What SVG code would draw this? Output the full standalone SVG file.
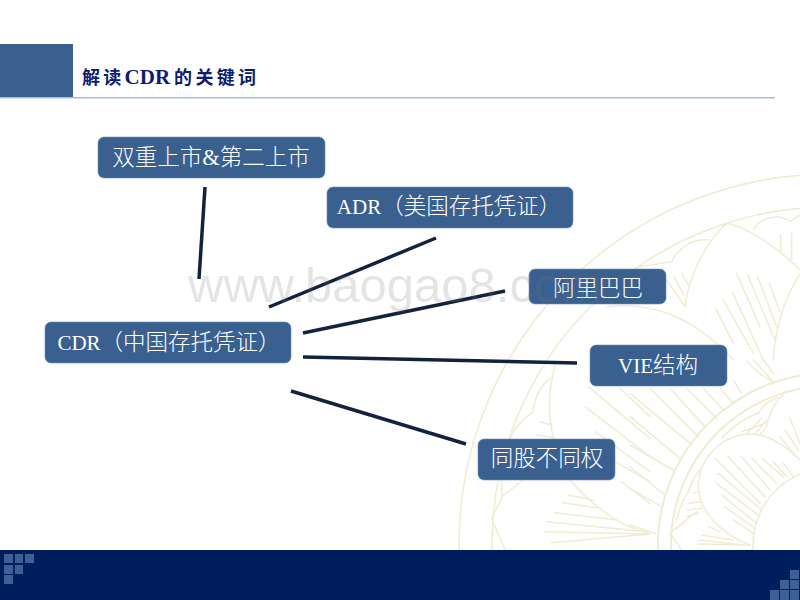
<svg xmlns="http://www.w3.org/2000/svg" width="800" height="600" viewBox="0 0 800 600">
<style>
.box{fill:#3a6090;stroke:#6f8fb5;stroke-width:.6}
.t{fill:#fff;font-family:"Liberation Serif","Noto Sans CJK SC",serif;font-size:22.5px;font-weight:300;text-anchor:middle}
.l{font-size:21px}
.c{stroke:#12233f;stroke-width:3.5;fill:none}
.o{fill:none;stroke:#f0ecd3;stroke-width:1.6}
.p{fill:none;stroke:#f0ecd3;stroke-width:4.6;stroke-linecap:round}
.sq{fill:#3d6196}
</style>
<rect width="800" height="600" fill="#fff"/>
<g id="ornament">
<g class="o">
<circle cx="830" cy="545" r="371"/>
<circle cx="830" cy="545" r="338"/>
<circle cx="830" cy="545" r="172" stroke-width="2"/>
<circle cx="830" cy="545" r="159" stroke-width="2"/>
<circle cx="830" cy="545" r="77"/>
</g>
<g class="p" transform="translate(620 170) scale(.3333)">
<path d="M195 410C205 320 260 210 320 160C380 170 470 230 540 300"/>
<path d="M540 310C490 390 465 480 460 570"/>
<path d="M-40 410C100 395 220 440 340 570"/>
<path d="M60 290L155 275C175 235 215 205 265 210"/>
<path d="M400 180C420 140 480 130 510 155L540 135"/>
<path d="M350 310L420 470M383 315L465 510M413 320L470 470M448 340L480 425M310 390L400 550M338 368L430 570M287 415L340 520"/>
<path d="M140 330L195 410M163 322L192 375M185 310L205 345"/>
<path d="M482 195V245M515 190V270"/>
</g>
<g class="p" transform="translate(460 360) scale(.3333)">
<path d="M285 15C265 90 265 170 280 235C290 300 300 330 330 360C400 440 480 500 570 522"/>
<path d="M270 55C235 85 222 120 220 155C190 175 165 205 150 235"/>
<path d="M240 185L275 195M230 225L280 232"/>
<path d="M125 360V410L190 360M125 415L95 475L135 570"/>
<path d="M325 405L400 420M305 428L420 445M285 458L470 480M260 485L560 515M255 515L570 522M275 548L570 522"/>
<path d="M375 140L570 290M405 215L570 335M465 305L570 365M485 365L570 430M385 80L570 235M480 85L570 170"/>
</g>
<g class="p" transform="translate(630 360) scale(.3333)">
<path d="M60 85L205 230M120 85L225 200M170 85L260 175M220 85L280 150M270 85L310 130M310 60L335 100M0 100L180 250M0 170L150 295M0 255L130 330M0 320L105 405M0 385L95 440M0 495L75 520M370 0L430 65M400 0L430 40"/>
<path d="M350 0C360 20 400 50 430 65"/>
<path d="M360 555C270 520 205 450 205 380C205 300 270 225 360 222C420 222 470 260 510 300"/>
<path d="M410 195C420 155 440 120 460 105"/>
<path d="M275 235C320 190 350 170 385 160C400 130 430 115 450 112"/>
<path d="M140 480C150 440 165 410 172 400C185 370 195 345 210 330"/>
<path d="M120 520L155 570M120 520L200 455M170 470L205 460M172 450L215 445M178 430L212 425M190 400L210 395"/>
<path d="M255 295L390 430M295 290L405 410M335 290L420 390M365 295L440 370M395 295L460 350M430 305L470 350M460 310L490 350M265 340L395 450M260 370L390 470M275 405L380 490M285 440L375 505M310 480L370 520"/>
<path d="M205 540L340 555M205 552L360 555M215 525L310 540M235 500L270 515"/>
<path d="M335 215L405 190M350 220L395 175M375 222L410 180M392 222L412 198"/>
<path d="M450 230L490 280M465 210L505 270M480 175L510 250"/>
</g>
</g>
<g id="header">
<rect x="0" y="44" width="73" height="54" fill="#3a6090"/>
<rect x="0" y="97" width="775" height="1.5" fill="#a9bfd4"/>
<text x="82" y="84" font-family="Liberation Serif,Noto Sans CJK SC,serif" font-size="18" font-weight="700" fill="#0d1c6e" letter-spacing="3.3">解读<tspan font-size="21" letter-spacing="0">CDR</tspan><tspan dx="4">的关键词</tspan></text>
</g>
<g id="footer">
<rect x="0" y="550" width="800" height="50" fill="#001e5d"/>
<rect class="sq" x="4" y="554" width="9" height="9"/><rect class="sq" x="15" y="554" width="8" height="9"/><rect class="sq" x="25" y="554" width="9" height="9"/>
<rect class="sq" x="4" y="565" width="9" height="9"/><rect class="sq" x="15" y="565" width="8" height="9"/>
<rect class="sq" x="4" y="575" width="9" height="9"/>
<rect class="sq" x="790" y="570" width="9" height="9"/>
<rect class="sq" x="780" y="580" width="9" height="9"/><rect class="sq" x="790" y="580" width="9" height="9"/>
<rect class="sq" x="770" y="590" width="9" height="10"/><rect class="sq" x="780" y="590" width="9" height="10"/><rect class="sq" x="790" y="590" width="9" height="10"/>
</g>
<g id="connectors">
<path class="c" d="M205 187L199 279"/>
<path class="c" d="M269 307L436 238"/>
<path class="c" d="M303 333L505 291"/>
<path class="c" d="M303 357L577 363"/>
<path class="c" d="M291 391L466 444"/>
</g>
<g id="n1"><rect class="box" x="98" y="137" width="227" height="41" rx="6"/><text class="t" x="211" y="165">双重上市&amp;第二上市</text></g>
<g id="n2"><rect class="box" x="327" y="187" width="246" height="41" rx="6"/><text class="t" x="449" y="214"><tspan class="l">ADR</tspan>（美国存托凭证）</text></g>
<g id="n3"><rect class="box" x="529" y="269" width="137" height="35" rx="6"/><text class="t" x="598" y="296">阿里巴巴</text></g>
<g id="n4"><rect class="box" x="590" y="345" width="137" height="41" rx="6"/><text class="t" x="658" y="373"><tspan class="l">VIE</tspan>结构</text></g>
<g id="n5"><rect class="box" x="478" y="439" width="137" height="41" rx="6"/><text class="t" x="547" y="466">同股不同权</text></g>
<g id="n0"><rect class="box" x="45" y="322" width="246" height="41" rx="6"/><text class="t" x="169" y="350"><tspan class="l">CDR</tspan>（中国存托凭证）</text></g>
<g id="watermark"><text x="188" y="302" font-family="Liberation Sans,sans-serif" font-size="49" fill="#777" fill-opacity=".2">www.baogao8.com</text></g>
</svg>
